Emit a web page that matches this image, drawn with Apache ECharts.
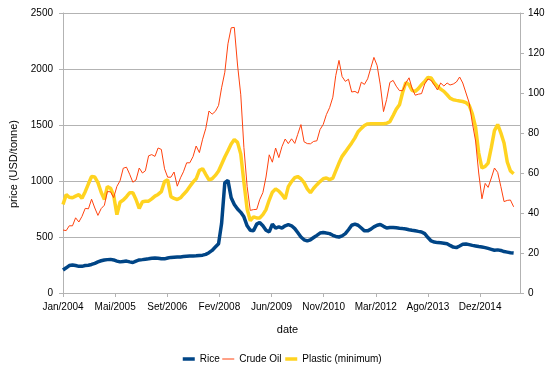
<!DOCTYPE html>
<html>
<head>
<meta charset="utf-8">
<script src="https://cdn.jsdelivr.net/npm/echarts@6/dist/echarts.min.js"></script>
<style>
    html, body { margin: 0; padding: 0; background: #fff; }
    #chart { width: 552px; height: 378px; }
</style>
</head>
<body>
<div id="chart"></div>
<script>
// monthly data, Jan/2004 -> Nov/2015
const startYear = 2004;
const nbMois = 143;
const moisPt = ['Jan', 'Fev', 'Mar', 'Abr', 'Mai', 'Jun', 'Jul', 'Ago', 'Set', 'Out', 'Nov', 'Dez'];

// USD/tonne
const rice = [
    205, 225, 245, 250, 245, 238, 238, 245, 248, 255, 265, 278,
    288, 295, 298, 300, 295, 285, 278, 282, 285, 278, 272, 285,
    295, 298, 302, 305, 310, 312, 310, 305, 305, 312, 318, 320,
    322, 322, 325, 328, 330, 330, 332, 335, 338, 345, 360, 380,
    410, 440, 620, 985, 1005, 850, 790, 750, 720, 680, 600, 560,
    555, 615, 630, 600, 560, 545, 615, 580, 590, 580, 600, 610,
    600, 575, 540, 500, 475, 465, 475, 495, 515, 535, 540, 535,
    530, 515, 505, 500, 510, 530, 565, 605, 615, 605, 580, 555,
    555, 570, 590, 605, 612, 595, 580, 585, 585, 582, 578, 575,
    572, 565, 560, 555, 550, 545, 530, 495, 465, 455, 450, 448,
    445, 440, 425, 410, 405, 420, 435, 438, 432, 425, 420, 415,
    410, 405, 398, 390, 382, 385, 380, 370, 365, 360, 357
];

// USD/barrel (right axis)
const crudeOil = [
    31.5, 31.2, 33.6, 33.6, 37.6, 35.5, 38.3, 42.3, 42.1, 46.9, 42.5, 38.8,
    42.2, 43.9, 50.7, 50.6, 47.7, 53.3, 56.1, 62.4, 62.9, 59.4, 55.4, 56.5,
    62.5, 60.0, 61.1, 68.6, 69.2, 68.3, 72.5, 71.8, 62.1, 57.9, 57.9, 60.5,
    53.4, 57.6, 60.6, 65.1, 65.1, 68.2, 73.5, 70.2, 76.9, 82.2, 91.0, 89.4,
    90.8, 93.8, 102.6, 110.4, 124.6, 132.6, 132.8, 114.0, 99.1, 72.8, 53.3, 41.3,
    41.7, 41.8, 46.6, 50.2, 58.0, 69.1, 65.4, 72.5, 67.7, 73.2, 77.0, 74.7,
    77.1, 74.8, 79.3, 84.2, 75.6, 74.7, 74.6, 75.8, 76.1, 81.7, 84.3, 89.2,
    92.7, 97.9, 108.7, 116.3, 108.2, 105.8, 106.9, 100.5, 100.8, 99.9, 105.4, 104.3,
    107.1, 112.7, 117.8, 113.7, 104.1, 90.7, 96.8, 105.3, 106.3, 103.4, 101.2, 101.2,
    105.1, 107.6, 102.5, 98.9, 99.4, 99.7, 104.5, 107.0, 106.3, 104.0, 101.5, 105.0,
    103.5, 105.0, 104.0, 104.5, 105.5, 108.0, 105.0, 100.0, 95.0, 85.0, 76.0, 60.0,
    47.1, 54.8, 52.8, 57.5, 62.5, 60.3, 53.3, 45.7, 46.3, 46.5, 43.1
];

const plastic = [
    790, 878, 855, 850, 865, 878, 845, 905, 975, 1040, 1035, 985,
    900, 835, 950, 935, 870, 700, 810, 830, 860, 895, 895, 835,
    755, 815, 820, 820, 840, 865, 880, 905, 995, 1010, 860, 845,
    835, 850, 880, 910, 950, 990, 1020, 1095, 1110, 1060, 1010, 1020,
    1050, 1090, 1150, 1215, 1270, 1330, 1370, 1345, 1240, 990, 750, 645,
    680, 670, 670, 700, 745, 830, 900, 930, 910, 880, 840, 950,
    995, 1030, 1040, 1020, 985, 930, 895, 935, 967, 995, 1020, 1027,
    1012, 1025, 1090, 1160, 1220, 1260, 1300, 1340, 1385, 1440, 1470, 1495,
    1510, 1512, 1512, 1512, 1512, 1512, 1515, 1530, 1585, 1640, 1680, 1790,
    1880, 1860, 1810, 1800, 1825, 1860, 1890, 1925, 1920, 1875, 1845, 1820,
    1800, 1770, 1740, 1725, 1720, 1715, 1710, 1700, 1675, 1600, 1480, 1250,
    1116, 1130, 1160, 1300, 1450, 1505, 1430, 1340, 1170, 1090, 1065
];

// date axis: days since 01/01/2004, a tick every 500 days
const jourMs = 86400000;
const origine = Date.UTC(startYear, 0, 1);
const finAxe = (Date.UTC(2016, 0, 1) - origine) / jourMs;

const jours = [];
for (let i = 0; i < nbMois; i++) {
    jours.push((Date.UTC(startYear, i, 1) - origine) / jourMs);
}

function paires(valeurs) {
    return valeurs.map((v, i) => [jours[i], v]);
}

function labelDate(j) {
    if (j % 500 !== 0) return '';
    let d = new Date(origine + j * jourMs);
    return moisPt[d.getUTCMonth()] + '/' + d.getUTCFullYear();
}

let graphe;

window.onload = init;

function init() {
    graphe = echarts.init(document.getElementById('chart'));

    const police = 'Liberation Sans, Arial, sans-serif';
    const gris = '#b3b3b3';

    let options = {
        animation: false,
        textStyle: { fontFamily: police },
        grid: { left: 63, right: 32, top: 13, bottom: 85 },
        legend: {
            top: 349,
            left: 176,
            itemWidth: 12,
            itemHeight: 8,
            itemGap: 2,
            itemStyle: { opacity: 0 },
            textStyle: { fontSize: 10, color: '#000', fontFamily: police },
            data: [
                { name: 'Rice', lineStyle: { width: 3.5 } },
                { name: 'Crude Oil', lineStyle: { width: 1 } },
                { name: 'Plastic (minimum)', lineStyle: { width: 3.5 } }
            ]
        },
        xAxis: {
            type: 'value',
            min: 0,
            max: finAxe,
            interval: 500,
            name: 'date',
            nameLocation: 'middle',
            nameGap: 31,
            nameTextStyle: { fontSize: 11, color: '#000', padding: [0, 8, 0, 0] },
            axisLine: { lineStyle: { color: gris } },
            axisTick: { length: 4, lineStyle: { color: gris } },
            axisLabel: { formatter: labelDate, fontSize: 10, color: '#000', margin: 9, showMaxLabel: false },
            splitLine: { show: false }
        },
        yAxis: [
            {
                type: 'value',
                min: 0,
                max: 2500,
                interval: 500,
                name: 'price (USD/tonne)',
                nameLocation: 'middle',
                nameGap: 43,
                nameTextStyle: { fontSize: 11, color: '#000', padding: [0, 22, 0, 0] },
                axisLine: { show: true, lineStyle: { color: gris } },
                axisTick: { show: true, length: 4, lineStyle: { color: gris } },
                axisLabel: { formatter: v => String(v), fontSize: 10, color: '#000', margin: 10 },
                splitLine: { lineStyle: { color: gris } }
            },
            {
                type: 'value',
                min: 0,
                max: 140,
                interval: 20,
                position: 'right',
                axisLine: { show: true, lineStyle: { color: gris } },
                axisTick: { show: true, length: 4, lineStyle: { color: gris } },
                axisLabel: { fontSize: 10, color: '#000', margin: 8 },
                splitLine: { show: false }
            }
        ],
        series: [
            {
                name: 'Rice',
                type: 'line',
                data: paires(rice),
                symbol: 'none',
                z: 2,
                lineStyle: { color: '#004586', width: 3.5 },
                itemStyle: { color: '#004586' }
            },
            {
                name: 'Crude Oil',
                type: 'line',
                yAxisIndex: 1,
                data: paires(crudeOil),
                symbol: 'none',
                z: 4,
                lineStyle: { color: '#ff420e', width: 1 },
                itemStyle: { color: '#ff420e' }
            },
            {
                name: 'Plastic (minimum)',
                type: 'line',
                data: paires(plastic),
                symbol: 'none',
                z: 3,
                lineStyle: { color: '#ffd320', width: 3.5 },
                itemStyle: { color: '#ffd320' }
            }
        ]
    };

    graphe.setOption(options);
}
</script>
</body>
</html>
